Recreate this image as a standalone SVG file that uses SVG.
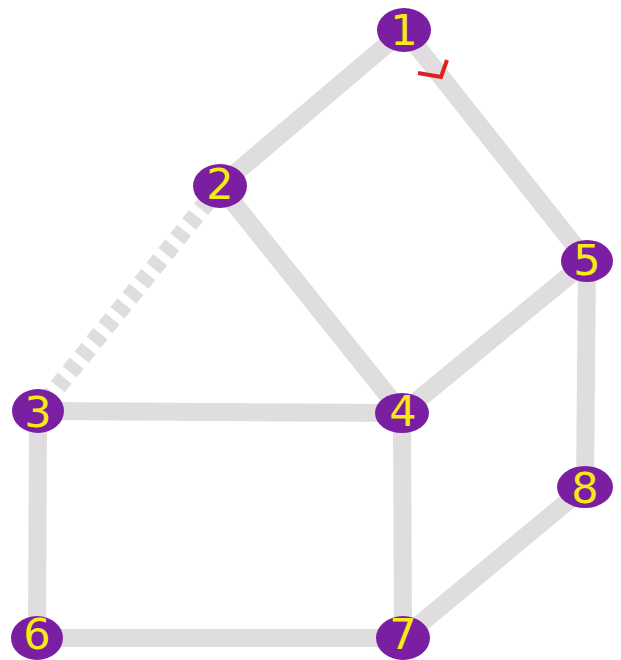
<svg xmlns="http://www.w3.org/2000/svg" width="621" height="660" viewBox="0 0 621 660">
<style>
.e{stroke:#dfdddd;stroke-width:18;fill:none}
.d{stroke-dasharray:11 8}
.n ellipse{fill:#7b1fa2}
.n text{fill:#f7ea10;font-family:"DejaVu Sans",sans-serif;font-size:43px;text-anchor:middle}
</style>
<rect width="621" height="660" fill="#fff"/>
<g id="edges">
<line class="e" x1="404" y1="30" x2="220" y2="186"/>
<line class="e" x1="404" y1="30" x2="587" y2="261"/>
<line class="e" x1="220" y1="186" x2="402" y2="413"/>
<line class="e d" x1="220" y1="186" x2="38" y2="411"/>
<line class="e" x1="38" y1="411" x2="402" y2="413"/>
<line class="e" x1="402" y1="413" x2="587" y2="261"/>
<line class="e" x1="38" y1="411" x2="37" y2="638"/>
<line class="e" x1="402" y1="413" x2="403" y2="638"/>
<line class="e" x1="37" y1="638" x2="403" y2="638"/>
<line class="e" x1="403" y1="638" x2="585" y2="487"/>
<line class="e" x1="587" y1="261" x2="585" y2="487"/>
<polyline points="418,73 441,77 447,60" fill="none" stroke="#e0201f" stroke-width="4"/>
</g>
<g id="n1" class="n"><ellipse cx="404" cy="30" rx="27" ry="22"/><text x="404" y="45">1</text></g>
<g id="n2" class="n"><ellipse cx="220" cy="186" rx="27" ry="22"/><text x="220" y="199">2</text></g>
<g id="n3" class="n"><ellipse cx="38" cy="411" rx="26" ry="22"/><text x="38" y="427">3</text></g>
<g id="n4" class="n"><ellipse cx="402" cy="413" rx="27" ry="20"/><text x="403" y="426">4</text></g>
<g id="n5" class="n"><ellipse cx="587" cy="261" rx="26" ry="21"/><text x="587" y="275">5</text></g>
<g id="n6" class="n"><ellipse cx="37" cy="638" rx="26" ry="22"/><text x="37" y="649">6</text></g>
<g id="n7" class="n"><ellipse cx="403" cy="638" rx="27" ry="22"/><text x="403" y="649">7</text></g>
<g id="n8" class="n"><ellipse cx="585" cy="487" rx="28" ry="21"/><text x="585" y="503">8</text></g>
</svg>
